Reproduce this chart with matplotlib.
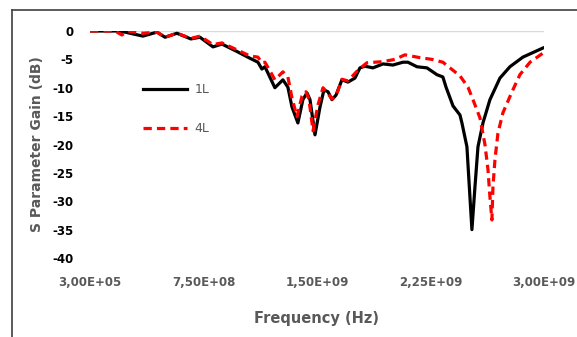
import matplotlib
matplotlib.use("Agg")
import matplotlib.pyplot as plt
from matplotlib.lines import Line2D
from matplotlib.ticker import FuncFormatter
import numpy as np

# frequency in GHz, gain in dB
f_1L = [0.0003, 0.066, 0.198, 0.350, 0.443, 0.496, 0.575, 0.667, 0.727, 0.813,
        0.872, 0.978, 1.057, 1.110, 1.136, 1.156, 1.176, 1.222, 1.275, 1.308,
        1.335, 1.374, 1.407, 1.434, 1.454, 1.487, 1.520, 1.546, 1.573, 1.599,
        1.626, 1.665, 1.705, 1.751, 1.784, 1.817, 1.870, 1.936, 2.002, 2.068,
        2.101, 2.161, 2.227, 2.293, 2.332, 2.353, 2.399, 2.445, 2.458, 2.491,
        2.504, 2.524, 2.544, 2.564, 2.597, 2.643, 2.709, 2.775, 2.861, 2.993]
g_1L = [0.0, 0.0, 0.0, -0.9, -0.2, -1.1, -0.4, -1.4, -1.1, -2.8,
        -2.3, -3.7, -4.8, -5.5, -6.7, -6.3, -7.4, -10.0, -8.6, -9.9,
        -13.4, -16.2, -12.1, -10.9, -12.1, -18.3, -13.4, -10.4, -10.7, -12.1,
        -11.3, -8.6, -9.0, -8.3, -6.5, -6.2, -6.5, -5.8, -6.0, -5.5,
        -5.5, -6.3, -6.5, -7.7, -8.1, -9.9, -13.2, -14.8, -16.2, -20.4,
        -26.2, -35.0, -27.5, -20.4, -16.2, -12.1, -8.3, -6.3, -4.6, -3.0]

f_4L = [0.0003, 0.165, 0.211, 0.251, 0.350, 0.443, 0.496, 0.575, 0.667, 0.727,
        0.813, 0.872, 0.978, 1.057, 1.110, 1.136, 1.156, 1.189, 1.222, 1.275,
        1.308, 1.335, 1.368, 1.401, 1.427, 1.447, 1.474, 1.507, 1.540, 1.573,
        1.599, 1.632, 1.665, 1.705, 1.771, 1.830, 1.936, 2.015, 2.081, 2.181,
        2.260, 2.332, 2.445, 2.498, 2.531, 2.577, 2.610, 2.630, 2.643, 2.656,
        2.663, 2.676, 2.696, 2.729, 2.789, 2.841, 2.908, 2.993]
g_4L = [0.0, 0.0, -0.7, 0.0, -0.4, -0.2, -1.1, -0.4, -1.3, -0.9,
        -2.4, -2.1, -3.4, -4.4, -4.6, -5.6, -5.5, -7.0, -8.6, -7.2,
        -8.1, -11.8, -15.1, -11.5, -10.7, -12.0, -17.6, -13.0, -10.0, -11.0,
        -12.0, -11.0, -8.5, -8.8, -6.9, -5.6, -5.4, -5.0, -4.2, -4.7,
        -5.0, -5.5, -7.9, -9.9, -12.1, -15.3, -20.0, -24.4, -29.2, -33.3,
        -27.5, -22.7, -18.0, -14.4, -10.7, -7.7, -5.5, -3.9]

x_ticks = [3e5 + k * 7.5e8 for k in range(5)]
y_ticks = [0, -5, -10, -15, -20, -25, -30, -35, -40]

gray = "#595959"
plt.rcParams['font.family'] = ['DejaVu Sans']
plt.rcParams['axes.unicode_minus'] = False

fig = plt.figure(figsize=(5.77, 3.37), dpi=100)
ax = fig.add_axes([90 / 577, 1 - 258 / 337, 454 / 577, 227 / 337])

ax.plot(np.array(f_1L) * 1e9, g_1L, color="black", lw=2.3, label="1L",
        solid_joinstyle="round")
ax.plot(np.array(f_4L) * 1e9, g_4L, color="#ff0000", lw=2.3, label="4L",
        linestyle=(0, (2.6, 1.6)))

ax.axhline(0, color="#d9d9d9", lw=1.0, zorder=0)
ax.set_xlim(x_ticks[0], x_ticks[-1])
ax.set_ylim(-40, 0)
for s in ax.spines.values():
    s.set_visible(False)

ax.set_xticks(x_ticks)
ax.set_yticks(y_ticks)
ax.xaxis.set_major_formatter(FuncFormatter(lambda v, p: f"{v:.2E}".replace(".", ",")))
ax.tick_params(axis="both", length=0)
ax.tick_params(axis="x", pad=13, labelsize=8.5, labelcolor=gray)
ax.tick_params(axis="y", pad=12, labelsize=8.5, labelcolor="black")
for lbl in ax.get_xticklabels() + ax.get_yticklabels():
    lbl.set_fontweight("bold")

ax.set_xlabel("Frequency (Hz)", fontsize=10.5, fontweight="bold", color=gray, labelpad=16)
ax.set_ylabel("S Parameter Gain (dB)", fontsize=10, fontweight="bold", color=gray, labelpad=6)

leg = ax.legend(loc="upper left", bbox_to_anchor=(143 / 577, 1 - 83 / 337),
                bbox_transform=fig.transFigure, frameon=False, fontsize=9,
                handlelength=3.5, handletextpad=0.6, labelspacing=2.1,
                borderpad=0, borderaxespad=0)
for t in leg.get_texts():
    t.set_color(gray)

# chart frame (top and left edges visible)
fig.add_artist(Line2D([12 / 577, 1], [1 - 10 / 337, 1 - 10 / 337], color="#404040", lw=1.2))
fig.add_artist(Line2D([12 / 577, 12 / 577], [0, 1 - 10 / 337], color="#404040", lw=1.2))

fig.savefig("out.png", dpi=100)
